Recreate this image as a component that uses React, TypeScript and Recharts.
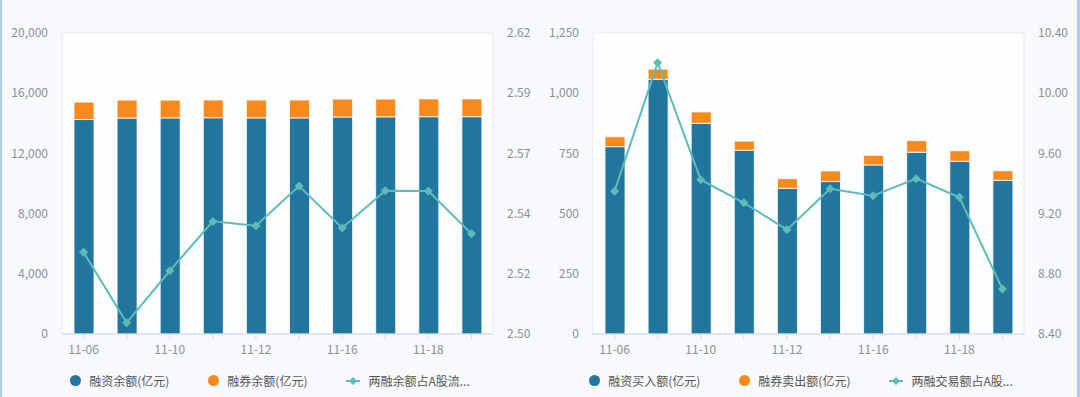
import {
  Bar,
  CartesianGrid,
  ComposedChart,
  Line,
  XAxis,
  YAxis,
} from "recharts";

const dates = ["11-06", "11-09", "11-10", "11-11", "11-12", "11-13", "11-16", "11-17", "11-18", "11-19"];

// left chart: balances
const financeBalance = [14250, 14350, 14360, 14370, 14360, 14360, 14420, 14430, 14440, 14440];
const shortBalance = [1160, 1190, 1180, 1180, 1190, 1190, 1190, 1180, 1180, 1180];
const balanceRatio = [2.5326, 2.5045, 2.5252, 2.5449, 2.5432, 2.559, 2.5423, 2.5571, 2.557, 2.54];

// right chart: trading amounts
const financeBuy = [778, 1058, 875, 763, 605, 633, 702, 755, 717, 638];
const shortSell = [41, 42, 47, 38, 40, 44, 40, 48, 44, 40];
const tradeRatio = [9.348, 10.203, 9.425, 9.272, 9.093, 9.365, 9.319, 9.432, 9.308, 8.699];

const leftTicksA = [0, 4000, 8000, 12000, 16000, 20000];
const leftLabelsA = ["0", "4,000", "8,000", "12,000", "16,000", "20,000"];
const rightTicksA = [2.5, 2.524, 2.548, 2.572, 2.596, 2.62];
const rightLabelsA = ["2.50", "2.52", "2.54", "2.57", "2.59", "2.62"];

const leftTicksB = [0, 250, 500, 750, 1000, 1250];
const leftLabelsB = ["0", "250", "500", "750", "1,000", "1,250"];
const rightTicksB = [8.4, 8.8, 9.2, 9.6, 10.0, 10.4];
const rightLabelsB = ["8.40", "8.80", "9.20", "9.60", "10.00", "10.40"];

const seriesNamesA = ["融资余额(亿元)", "融券余额(亿元)", "两融余额占A股流通市值比(%)"];
const seriesNamesB = ["融资买入额(亿元)", "融券卖出额(亿元)", "两融交易额占A股成交额比(%)"];

const BLUE = "#22759f";
const ORANGE = "#f7891d";
const TEAL = "#5cbdb8";
const FONT = "'Noto Sans CJK SC', 'Noto Sans', sans-serif";

const dataA = dates.map((d, i) => ({ date: d, a: financeBalance[i], b: shortBalance[i], r: balanceRatio[i] }));
const dataB = dates.map((d, i) => ({ date: d, a: financeBuy[i], b: shortSell[i], r: tradeRatio[i] }));

// legend cuts long names like the original widget does
const shortName = (s: string, n: number) => (s.length > n ? s.slice(0, n) + "..." : s);

function Diamond(props: any) {
  const { cx, cy } = props;
  if (cx == null || cy == null) return null;
  const s = 4.5;
  return (
    <polygon
      points={`${cx},${cy - s} ${cx + s},${cy} ${cx},${cy + s} ${cx - s},${cy}`}
      fill={TEAL}
    />
  );
}

function DateTick(props: any) {
  const { x, y, payload, index } = props;
  if (index % 2 !== 0) return <g />;
  return (
    <text x={x} y={y} dy="0.71em" textAnchor="middle" fill="#8a8f98" fontSize={12} fontFamily={FONT}>
      {payload.value}
    </text>
  );
}

function LegendRow({ names, cut }: { names: string[]; cut: number }) {
  const text = { fontSize: 12, color: "#555", fontFamily: FONT, whiteSpace: "nowrap" as const };
  return (
    <div style={{ display: "flex", justifyContent: "center", alignItems: "center", height: 33, gap: 39 }}>
      <div style={{ display: "flex", alignItems: "center", gap: 8 }}>
        <span style={{ width: 11, height: 11, borderRadius: "50%", background: BLUE, display: "inline-block" }} />
        <span style={text}>{names[0]}</span>
      </div>
      <div style={{ display: "flex", alignItems: "center", gap: 8 }}>
        <span style={{ width: 11, height: 11, borderRadius: "50%", background: ORANGE, display: "inline-block" }} />
        <span style={text}>{names[1]}</span>
      </div>
      <div style={{ display: "flex", alignItems: "center", gap: 8 }}>
        <svg width={14} height={10}>
          <line x1={0} y1={5} x2={14} y2={5} stroke={TEAL} strokeWidth={2} />
          <polygon points="7,1 11,5 7,9 3,5" fill={TEAL} />
        </svg>
        <span style={text}>{shortName(names[2], cut)}</span>
      </div>
    </div>
  );
}

function Panel({
  data,
  leftTicks,
  leftLabels,
  rightTicks,
  rightLabels,
  names,
  cut,
  left,
}: {
  data: any[];
  leftTicks: number[];
  leftLabels: string[];
  rightTicks: number[];
  rightLabels: string[];
  names: string[];
  cut: number;
  left: number;
}) {
  const tick = { fill: "#8a8f98", fontSize: 12, fontFamily: FONT };
  return (
    <div style={{ position: "absolute", left, top: 0, width: 540, height: 397 }}>
      <ComposedChart width={540} height={364} data={data} margin={{ top: 33, right: 0, bottom: 0, left: 0 }}>
        <CartesianGrid
          stroke="#e6eaf0"
          fill="#fcfdfe"
          verticalCoordinatesGenerator={({ offset }: any) => [offset.left, offset.left + offset.width]}
        />
        <XAxis
          dataKey="date"
          interval={0}
          height={30}
          tickSize={5}
          tickMargin={6}
          stroke="#cfd8e6"
          tickLine={{ stroke: "#cfd8e6" }}
          tick={<DateTick />}
        />
        <YAxis
          yAxisId="left"
          width={62}
          domain={[leftTicks[0], leftTicks[leftTicks.length - 1]]}
          ticks={leftTicks}
          tickFormatter={(_v: number, i: number) => leftLabels[i]}
          axisLine={false}
          tickLine={false}
          tickMargin={8}
          tick={tick}
          interval={0}
        />
        <YAxis
          yAxisId="right"
          orientation="right"
          width={47}
          domain={[rightTicks[0], rightTicks[rightTicks.length - 1]]}
          ticks={rightTicks}
          tickFormatter={(_v: number, i: number) => rightLabels[i]}
          axisLine={false}
          tickLine={false}
          tickMargin={8}
          tick={{ ...tick, textAnchor: "start" }}
          interval={0}
        />
        <Bar yAxisId="left" dataKey="a" stackId="s" fill={BLUE} barSize={20} stroke="#ffffff" strokeWidth={0.8} isAnimationActive={false} />
        <Bar yAxisId="left" dataKey="b" stackId="s" fill={ORANGE} barSize={20} stroke="#ffffff" strokeWidth={0.8} isAnimationActive={false} />
        <Line
          yAxisId="right"
          dataKey="r"
          stroke={TEAL}
          strokeWidth={2}
          dot={<Diamond />}
          activeDot={false}
          isAnimationActive={false}
        />
      </ComposedChart>
      <LegendRow names={names} cut={cut} />
    </div>
  );
}

export default function App() {
  return (
    <div
      style={{
        position: "absolute",
        left: 0,
        top: 0,
        width: 1080,
        height: 397,
        background: "#f7f9fc",
        overflow: "hidden",
        boxSizing: "border-box",
        borderLeft: "2px solid #b3cbec",
        borderRight: "3px solid #b3cbec",
      }}
    >
      <Panel
        data={dataA}
        leftTicks={leftTicksA}
        leftLabels={leftLabelsA}
        rightTicks={rightTicksA}
        rightLabels={rightLabelsA}
        names={seriesNamesA}
        cut={8}
        left={-2}
      />
      <Panel
        data={dataB}
        leftTicks={leftTicksB}
        leftLabels={leftLabelsB}
        rightTicks={rightTicksB}
        rightLabels={rightLabelsB}
        names={seriesNamesB}
        cut={8}
        left={529}
      />
    </div>
  );
}
